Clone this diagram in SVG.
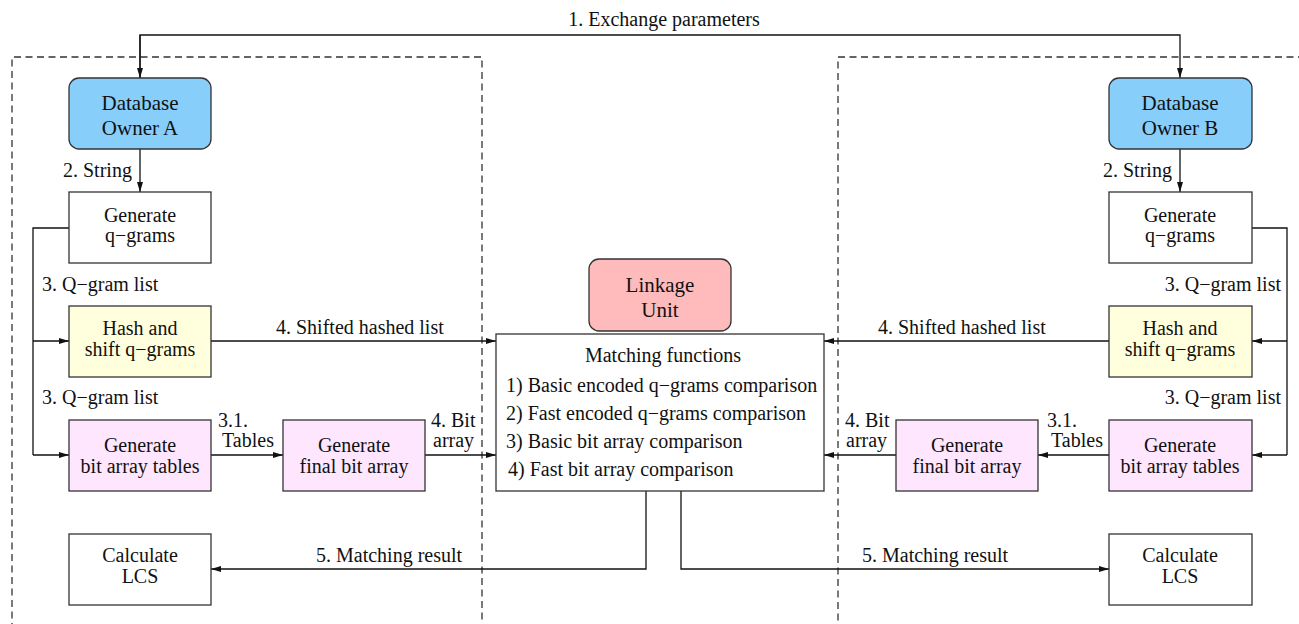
<svg xmlns="http://www.w3.org/2000/svg" width="1299" height="624" viewBox="0 0 1299 624">
<style>
text{font-family:"Liberation Serif","Times New Roman",serif;font-size:20px;fill:#111}
.c{text-anchor:middle}
.e{text-anchor:end}
.big{font-size:21px}
.box{stroke:#333;stroke-width:1.3}
.ln{fill:none;stroke:#111;stroke-width:1.3}
.dash{fill:none;stroke:#333;stroke-width:1.3;stroke-dasharray:7 4.5}
</style>
<defs>
<marker id="ah" viewBox="0 0 10 6" refX="10" refY="3" markerWidth="10" markerHeight="6" markerUnits="userSpaceOnUse" orient="auto">
<path d="M0,0 L10,3 L0,6 z" fill="#111"/>
</marker>
</defs>
<rect width="1299" height="624" fill="#fff"/>
<g id="partitions">
<path class="dash" d="M12,630 V57 H482 V630"/>
<path class="dash" d="M1305,57 H838 V630"/>
</g>
<g id="connectors">
<path class="ln" d="M140,78 V35 H1180 V78" marker-end="url(#ah)"/>
<path class="ln" d="M140,35 V78" marker-end="url(#ah)"/>
<path class="ln" d="M140,149 V192" marker-end="url(#ah)"/>
<path class="ln" d="M1180,149 V192" marker-end="url(#ah)"/>
<path class="ln" d="M69,228 H33 V455"/>
<path class="ln" d="M33,341 H69" marker-end="url(#ah)"/>
<path class="ln" d="M33,455 H69" marker-end="url(#ah)"/>
<path class="ln" d="M1252,228 H1287 V455"/>
<path class="ln" d="M1287,341 H1252" marker-end="url(#ah)"/>
<path class="ln" d="M1287,455 H1252" marker-end="url(#ah)"/>
<path class="ln" d="M211,341 H496" marker-end="url(#ah)"/>
<path class="ln" d="M1109,341 H824" marker-end="url(#ah)"/>
<path class="ln" d="M211,455 H283" marker-end="url(#ah)"/>
<path class="ln" d="M425,455 H496" marker-end="url(#ah)"/>
<path class="ln" d="M1109,455 H1038" marker-end="url(#ah)"/>
<path class="ln" d="M896,455 H824" marker-end="url(#ah)"/>
<path class="ln" d="M646,491 V569 H211" marker-end="url(#ah)"/>
<path class="ln" d="M681,491 V569 H1109" marker-end="url(#ah)"/>
<text x="664" y="26" class="c">1. Exchange parameters</text>
<text x="63" y="177">2. String</text>
<text x="1103" y="177">2. String</text>
<text x="42" y="291">3. Q−gram list</text>
<text x="42" y="404">3. Q−gram list</text>
<text x="1281" y="291" class="e">3. Q−gram list</text>
<text x="1281" y="404" class="e">3. Q−gram list</text>
<text x="276" y="334">4. Shifted hashed list</text>
<text x="878" y="334">4. Shifted hashed list</text>
<text x="218" y="427">3.1.</text>
<text x="222" y="447">Tables</text>
<text x="431" y="427">4. Bit</text>
<text x="433" y="447">array</text>
<text x="845" y="427">4. Bit</text>
<text x="846" y="447">array</text>
<text x="1047" y="427">3.1.</text>
<text x="1051" y="447">Tables</text>
<text x="316" y="562">5. Matching result</text>
<text x="862" y="562">5. Matching result</text>
</g>
<g id="dbA">
<rect class="box" x="69" y="78" width="142" height="71" rx="10" fill="#87CEFA"/>
<text x="140" y="110" class="c big">Database</text>
<text x="140" y="135" class="c big">Owner A</text>
</g>
<g id="dbB">
<rect class="box" x="1109" y="78" width="143" height="71" rx="10" fill="#87CEFA"/>
<text x="1180" y="110" class="c big">Database</text>
<text x="1180" y="135" class="c big">Owner B</text>
</g>
<g id="genqA">
<rect class="box" x="69" y="192" width="142" height="71" fill="#fff"/>
<text x="140" y="222" class="c">Generate</text>
<text x="140" y="242" class="c">q−grams</text>
</g>
<g id="genqB">
<rect class="box" x="1109" y="192" width="143" height="71" fill="#fff"/>
<text x="1180" y="222" class="c">Generate</text>
<text x="1180" y="242" class="c">q−grams</text>
</g>
<g id="hashA">
<rect class="box" x="69" y="306" width="142" height="71" fill="#FFFFDD"/>
<text x="140" y="335" class="c">Hash and</text>
<text x="140" y="356" class="c">shift q−grams</text>
</g>
<g id="hashB">
<rect class="box" x="1109" y="306" width="143" height="71" fill="#FFFFDD"/>
<text x="1180" y="335" class="c">Hash and</text>
<text x="1180" y="356" class="c">shift q−grams</text>
</g>
<g id="tablesA">
<rect class="box" x="69" y="420" width="142" height="71" fill="#FFE6FF"/>
<text x="140" y="452" class="c">Generate</text>
<text x="140" y="473" class="c">bit array tables</text>
</g>
<g id="finalA">
<rect class="box" x="283" y="420" width="142" height="71" fill="#FFE6FF"/>
<text x="354" y="452" class="c">Generate</text>
<text x="354" y="473" class="c">final bit array</text>
</g>
<g id="tablesB">
<rect class="box" x="1109" y="420" width="143" height="71" fill="#FFE6FF"/>
<text x="1180" y="452" class="c">Generate</text>
<text x="1180" y="473" class="c">bit array tables</text>
</g>
<g id="finalB">
<rect class="box" x="896" y="420" width="142" height="71" fill="#FFE6FF"/>
<text x="967" y="452" class="c">Generate</text>
<text x="967" y="473" class="c">final bit array</text>
</g>
<g id="lcsA">
<rect class="box" x="69" y="534" width="142" height="71" fill="#fff"/>
<text x="140" y="562" class="c">Calculate</text>
<text x="140" y="583" class="c">LCS</text>
</g>
<g id="lcsB">
<rect class="box" x="1109" y="534" width="143" height="71" fill="#fff"/>
<text x="1180" y="562" class="c">Calculate</text>
<text x="1180" y="583" class="c">LCS</text>
</g>
<g id="linkage">
<rect class="box" x="589" y="259" width="142" height="72" rx="10" fill="#FFBBBB"/>
<text x="660" y="292" class="c big">Linkage</text>
<text x="660" y="317" class="c big">Unit</text>
</g>
<g id="matching">
<rect class="box" x="496" y="334" width="328" height="157" fill="#fff"/>
<text x="663" y="362" class="c">Matching functions</text>
<text x="506" y="392">1) Basic encoded q−grams comparison</text>
<text x="506" y="420">2) Fast encoded q−grams comparison</text>
<text x="506" y="448">3) Basic bit array comparison</text>
<text x="508" y="476">4) Fast bit array comparison</text>
</g>
</svg>
